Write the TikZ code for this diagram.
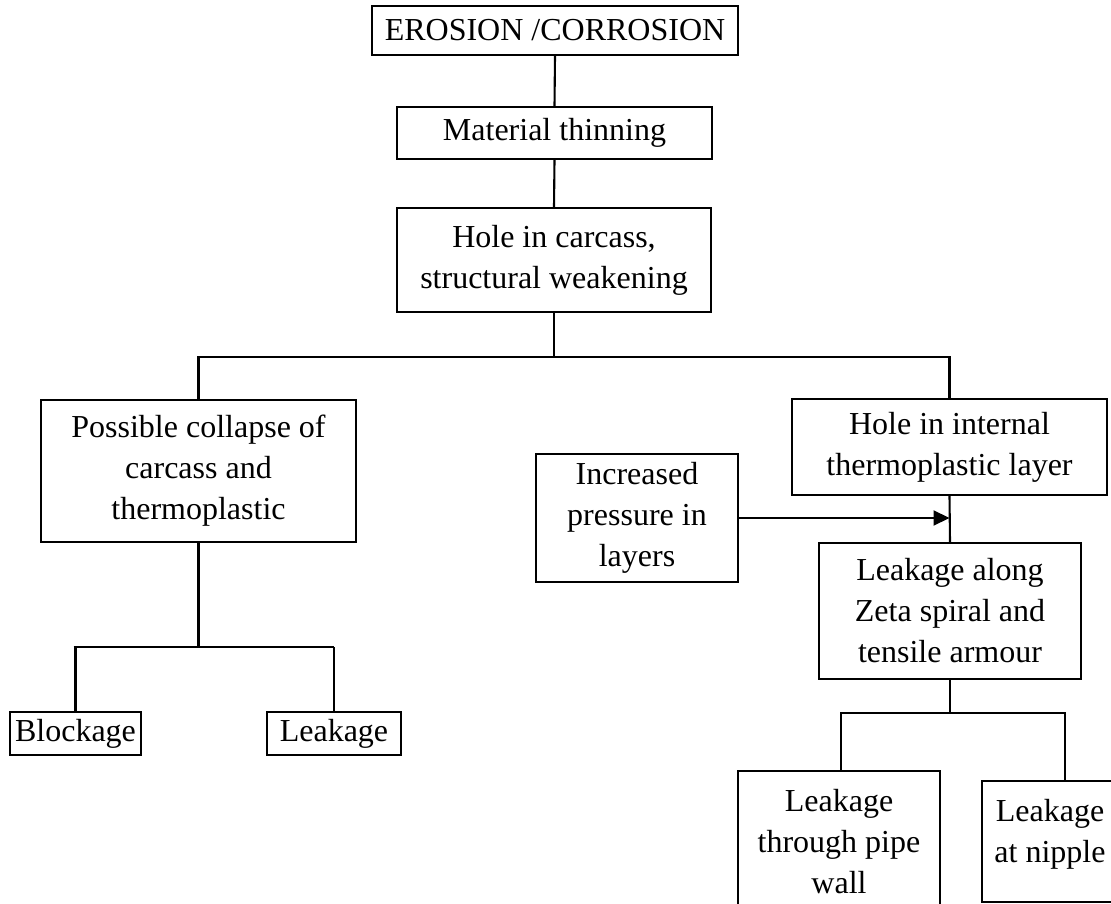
\documentclass[tikz,border=0pt]{standalone}
\usepackage{fontspec}
\setmainfont{Liberation Serif}
\usetikzlibrary{arrows.meta}
\begin{document}
\begin{tikzpicture}[x=1pt,y=-1pt,
  box/.style={draw, line width=2.1pt, rectangle, inner sep=0pt, align=center,
              font=\fontsize{32}{41}\selectfont},
  txt/.style={inner sep=0pt, align=center, font=\fontsize{32}{41}\selectfont},
  link/.style={line width=2.1pt},
  thick link/.style={line width=2.7pt},
  tip/.style={-{Triangle[length=16pt,width=15pt]}}
]
\useasboundingbox (0,0) rectangle (1111,904);
\clip (0,0) rectangle (1111,904);

% main chain
\node[box, minimum width=366pt, minimum height=49pt]  (ero)  at (555,30.5) {EROSION /CORROSION};
\node[box, minimum width=315pt, minimum height=52pt]  (thin) at (554.5,133) {Material thinning};
\node[box, minimum width=314pt, minimum height=104pt] (hole) at (554,260) {Hole in carcass,\\structural weakening};

% left branch
\node[box, minimum width=315pt, minimum height=142pt] (coll) at (198.5,471) {Possible collapse of\\carcass and\\thermoplastic};
\node[box, line width=2.5pt, minimum width=131pt, minimum height=43pt] (block) at (75.5,733.5) {Blockage};
\node[box, line width=2.5pt, minimum width=134pt, minimum height=43pt] (leak) at (334,733.5) {Leakage};

% right branch
\node[box, minimum width=315pt, minimum height=96pt]  (inner) at (949.5,447) {Hole in internal\\thermoplastic layer};
\node[box, minimum width=202pt, minimum height=128pt] (press) at (637,518) {Increased\\pressure in\\layers};
\node[box, minimum width=262pt, minimum height=136pt] (zeta)  at (950,611) {Leakage along\\Zeta spiral and\\tensile armour};
\node[box, minimum width=202pt, minimum height=169pt] (pipe)  at (839,855.5) {};
\node[box, minimum width=136pt, minimum height=121pt] (nip)   at (1050,841.5) {};
\node[txt, anchor=north] (pipetxt) at (839,789) {Leakage\\through pipe\\wall};
\node[txt, anchor=north] (niptxt)  at (1050,799) {Leakage\\at nipple};

% junction points
\coordinate (j1) at (554,357);
\coordinate (j2) at (198.5,647);
\coordinate (j3) at (950,713);

% connectors
\draw[link] (ero.south) -- (thin.north);
\draw[link] (thin.south) -- (hole.north);
\draw[link] (hole.south) -- (j1);
\draw[link] (coll.north) -- (coll.north |- j1) -- (inner.north |- j1) -- (inner.north);

\draw[link] (coll.south) -- (j2);
\draw[thick link] ([xshift=-2pt]block.north |- j2) -- (leak.north |- j2);
\draw[thick link] (block.north) -- (block.north |- j2);
\draw[thick link] (leak.north) -- (leak.north |- j2);

\draw[link, tip] (press.east) -- (press.east -| inner.south);
\draw[link] (inner.south) -- (zeta.north);

\draw[link] (zeta.south) -- (j3);
\draw[link] ([xshift=2pt]pipe.north) |- (j3) -| ([xshift=15pt]nip.north);
\end{tikzpicture}
\end{document}
